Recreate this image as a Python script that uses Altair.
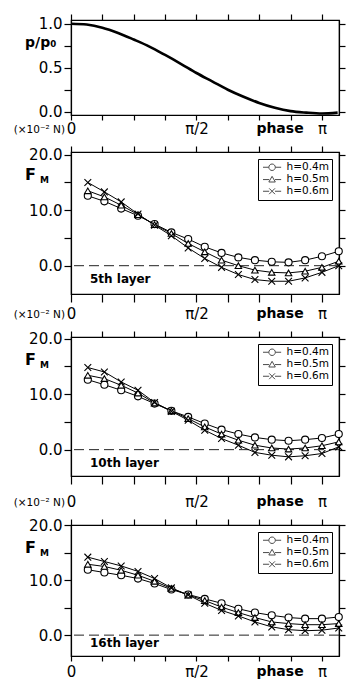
import altair as alt
import pandas as pd

# ---------------- data ----------------
PHASE = [0.067, 0.133, 0.2, 0.267, 0.333, 0.4, 0.467, 0.533, 0.6, 0.667,
         0.733, 0.8, 0.867, 0.933, 1.0, 1.067]          # in units of pi
SERIES = ["h=0.4m", "h=0.5m", "h=0.6m"]

L5_H04 = [12.6, 11.6, 10.3, 9.0, 7.5, 6.0, 4.8, 3.4, 2.3, 1.5, 1.0, 0.7, 0.6, 1.0, 1.7, 2.6]
L5_H05 = [13.5, 12.4, 10.9, 9.2, 7.4, 5.8, 4.0, 2.5, 1.0, 0.0, -0.8, -1.2, -1.3, -1.0, -0.3, 0.8]
L5_H06 = [15.0, 13.3, 11.5, 9.3, 7.3, 5.4, 3.2, 1.3, -0.3, -1.6, -2.5, -2.8, -2.8, -2.2, -1.2, 0.0]

L10_H04 = [12.6, 11.7, 10.7, 9.6, 8.3, 7.0, 5.9, 4.7, 3.6, 2.8, 2.2, 1.8, 1.6, 1.8, 2.1, 2.8]
L10_H05 = [13.4, 12.8, 11.6, 10.2, 8.4, 7.0, 5.6, 4.1, 2.8, 1.7, 0.8, 0.3, 0.1, 0.3, 0.7, 1.4]
L10_H06 = [14.8, 14.0, 12.2, 10.7, 8.5, 6.9, 5.3, 3.5, 2.0, 0.8, -0.5, -1.0, -1.3, -1.1, -0.7, 0.5]

L16_H04 = [11.9, 11.4, 10.9, 10.3, 9.4, 8.3, 7.4, 6.6, 5.8, 4.8, 4.1, 3.6, 3.2, 3.0, 3.0, 3.3]
L16_H05 = [12.9, 12.5, 11.8, 10.9, 9.8, 8.5, 7.3, 6.3, 5.1, 4.1, 3.2, 2.4, 2.1, 1.9, 1.9, 2.1]
L16_H06 = [14.2, 13.4, 12.6, 11.6, 10.3, 8.6, 7.3, 5.8, 4.5, 3.5, 2.4, 1.5, 1.0, 0.8, 0.9, 1.3]

CURVE_X = [0, 0.0625, 0.125, 0.1875, 0.25, 0.3125, 0.375, 0.4375, 0.5, 0.5625,
           0.625, 0.6875, 0.75, 0.8125, 0.875, 0.9375, 1.0, 1.0625]
CURVE_Y = [1.0, 0.99, 0.955, 0.895, 0.82, 0.74, 0.645, 0.545, 0.44, 0.345,
           0.25, 0.17, 0.10, 0.045, 0.007, -0.01, -0.02, -0.01]

LAYER_NAMES = ["5th layer", "10th layer", "16th layer"]
UNIT_TEXT = "(×10⁻² N)"

# ---------------- style ----------------
FONT = "DejaVu Sans"
W = 268
H1 = 95
XDOM = [0, 1.068]
XTICKS = [0, 0.125, 0.25, 0.375, 0.5, 0.625, 0.75, 0.875, 1.0]
XLABELS = "datum.value == 0 ? '0' : datum.value == 0.5 ? 'π/2' : datum.value == 1 ? 'π' : ''"

SHAPE_O = "M-1,0L0.8,0M2.8,0L4.6,0M0.8,0A1,1,0,1,1,2.8,0A1,1,0,1,1,0.8,0Z"
SHAPE_T = "M-1,0.1L0.9,0.1M2.7,0.1L4.6,0.1M1.8,-0.9L2.8,0.85L0.8,0.85Z"
SHAPE_X = "M-1,0L0.9,0M2.7,0L4.6,0M0.9,-0.9L2.7,0.9M0.9,0.9L2.7,-0.9"
MARK_X = "M-1,-1L1,1M-1,1L1,-1"


def xscale():
    return alt.Scale(domain=XDOM, nice=False, zero=False)


def x_bottom(tick, pad):
    return alt.X("phase:Q", scale=xscale(),
                 axis=alt.Axis(orient="bottom", values=XTICKS, labelExpr=XLABELS,
                               title=None, grid=False, tickSize=tick, labelPadding=pad,
                               labelFlush=False, labelOverlap=False))


def x_top():
    return alt.X("phase:Q", scale=xscale(),
                 axis=alt.Axis(orient="top", values=XTICKS, labels=False,
                               title=None, grid=False, tickSize=6))


def annotations(h, base, unit=True):
    df = pd.DataFrame({"a": [0]})
    layers = [
        alt.Chart(df).mark_text(text="phase", font=FONT, fontSize=14, fontWeight="bold",
                                align="center", baseline="alphabetic", color="black")
        .encode(x=alt.value(209), y=alt.value(h + base)),
    ]
    if unit:
        layers.append(
            alt.Chart(df).mark_text(text=UNIT_TEXT, font=FONT, fontSize=10.5,
                                    align="right", baseline="alphabetic", color="black")
            .encode(x=alt.value(-6), y=alt.value(h + base)))
    return layers


def top_panel():
    df = pd.DataFrame({"phase": CURVE_X, "p": CURVE_Y})
    ys = alt.Scale(domain=[-0.037, 1.042], nice=False, zero=False)
    line = alt.Chart(df).mark_line(color="black", strokeWidth=2.6, interpolate="monotone").encode(
        x=x_bottom(5, 1),
        y=alt.Y("p:Q", scale=ys,
                axis=alt.Axis(orient="left", values=[0, 0.25, 0.5, 0.75, 1.0],
                              labelExpr="datum.value % 0.5 == 0 ? format(datum.value, '.1f') : ''",
                              title=None, grid=False, tickSize=7, labelPadding=2)))
    frame = alt.Chart(df).mark_line(opacity=0).encode(
        x=x_top(),
        y=alt.Y("p:Q", scale=ys,
                axis=alt.Axis(orient="right", values=[0, 0.25, 0.5, 0.75, 1.0],
                              labels=False, title=None, grid=False, tickSize=6)))
    t = pd.DataFrame({"a": [0]})
    label = alt.Chart(t).mark_text(text="p/p₀", font=FONT, fontSize=14, fontWeight="bold",
                                   align="left", baseline="alphabetic", color="black").encode(
        x=alt.value(-46), y=alt.value(27))
    return alt.layer(line, frame, label, *annotations(H1, 18)).resolve_axis(
        x="independent", y="independent").properties(width=W, height=H1)


def f_panel(h04, h05, h06, name, height, ydom, tick, pad, name_off, last=False):
    rows = []
    for s, vals in zip(SERIES, [h04, h05, h06]):
        for p, v in zip(PHASE, vals):
            rows.append({"phase": p, "F": v, "h": s})
    df = pd.DataFrame(rows)
    ys = alt.Scale(domain=ydom, nice=False, zero=False)
    yv = [0, 5, 10, 15, 20]

    zero = alt.Chart(pd.DataFrame({"z": [0]})).mark_rule(
        color="#222", strokeWidth=1, strokeDash=[10, 5]).encode(
        y=alt.Y("z:Q", scale=ys, axis=None))

    lines = alt.Chart(df).mark_line(color="black", strokeWidth=1).encode(
        x=x_bottom(tick, pad),
        y=alt.Y("F:Q", scale=ys,
                axis=alt.Axis(orient="left", values=yv,
                              labelExpr="datum.value % 10 == 0 ? format(datum.value, '.1f') : ''",
                              title=None, grid=False, tickSize=7, labelPadding=2)),
        detail="h:N")

    shapes = ["circle", "triangle-up", MARK_X]
    sizes = [50, 42, 46]
    pts = []
    for i, (s, shp, sz) in enumerate(zip(SERIES, shapes, sizes)):
        if i == 0:
            xe = x_top()
            ye = alt.Y("F:Q", scale=ys,
                       axis=alt.Axis(orient="right", values=yv, labels=False,
                                     title=None, grid=False, tickSize=6))
        else:
            xe = alt.X("phase:Q", scale=xscale(), axis=None)
            ye = alt.Y("F:Q", scale=ys, axis=None)
        pts.append(
            alt.Chart(df).transform_filter(alt.datum.h == s).mark_point(
                shape=shp, size=sz, filled=True, fill="white", stroke="black",
                strokeWidth=1.1, opacity=1).encode(x=xe, y=ye))

    legend_layer = alt.Chart(df).transform_filter("false").mark_point(
        filled=False, color="black").encode(
        x=alt.X("phase:Q", scale=xscale(), axis=None),
        y=alt.Y("F:Q", scale=ys, axis=None),
        shape=alt.Shape("h:N",
                        scale=alt.Scale(domain=SERIES, range=[SHAPE_O, SHAPE_T, SHAPE_X]),
                        legend=alt.Legend(orient="top-right", title=None, offset=7,
                                          padding=3, strokeColor="black", fillColor="white",
                                          labelFont=FONT, labelFontSize=10.5, labelColor="black",
                                          symbolSize=42, symbolStrokeWidth=1,
                                          symbolStrokeColor="black", labelOffset=15,
                                          rowPadding=1)))

    t = pd.DataFrame({"a": [0]})
    texts = [
        alt.Chart(t).mark_text(text="F", font=FONT, fontSize=16, fontWeight="bold",
                               align="left", baseline="alphabetic", color="black")
        .encode(x=alt.value(-46), y=alt.value(28)),
        alt.Chart(t).mark_text(text="M", font=FONT, fontSize=9, fontWeight="bold",
                               align="left", baseline="alphabetic", color="black")
        .encode(x=alt.value(-31), y=alt.value(31)),
        alt.Chart(t).mark_text(text=name, font=FONT, fontSize=12, fontWeight="bold",
                               align="left", baseline="alphabetic", color="black")
        .encode(x=alt.value(19), y=alt.value(height - name_off)),
    ]
    base = tick + pad + 12
    layers = [zero, lines, *pts, legend_layer, *texts, *annotations(height, base, unit=not last)]
    return alt.layer(*layers).resolve_axis(
        x="independent", y="independent").properties(width=W, height=height)


chart = alt.vconcat(
    top_panel(),
    f_panel(L5_H04, L5_H05, L5_H06, LAYER_NAMES[0], 142, [-5.1, 20.49], 8, 4, 11),
    f_panel(L10_H04, L10_H05, L10_H06, LAYER_NAMES[1], 139, [-4.75, 20.3], 8, 10, 9),
    f_panel(L16_H04, L16_H05, L16_H06, LAYER_NAMES[2], 131, [-3.8, 20.05], 5, 3, 9, last=True),
    spacing=7,
).resolve_scale(shape="independent").configure_view(
    stroke="black", strokeWidth=1.2
).configure_axis(
    labelFont=FONT, labelFontSize=15, labelColor="black",
    tickColor="black", tickWidth=1.2, domainColor="black", domainWidth=1.2
).properties(
    padding={"left": 13, "top": 12, "right": 5, "bottom": 0},
    background="white"
)

chart.save("out.html", embed_options={"renderer": "svg", "actions": False})
